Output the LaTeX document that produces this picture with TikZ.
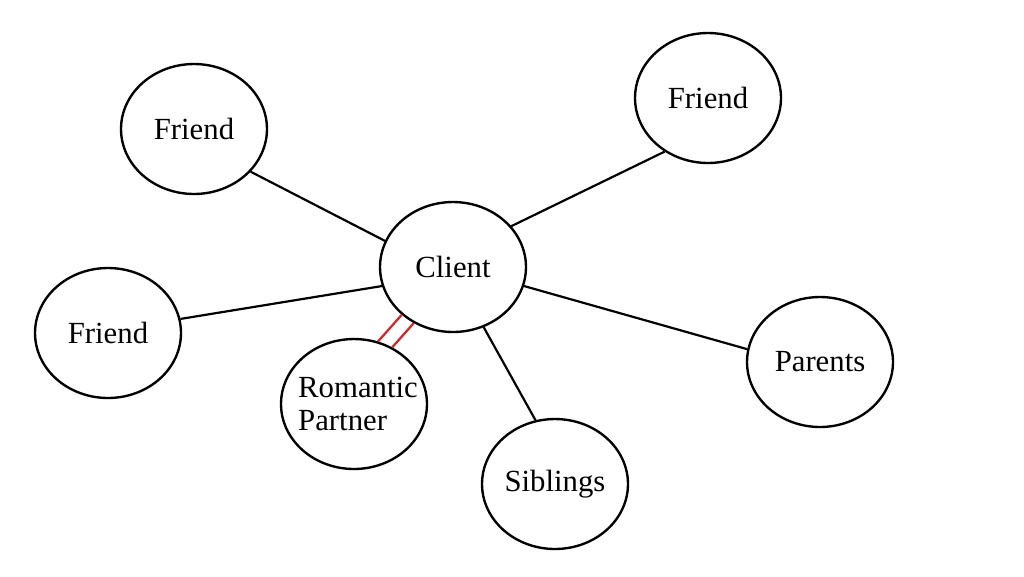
\documentclass[tikz,border=0pt]{standalone}
\usepackage{fontspec}
\setmainfont{Liberation Serif}
\usetikzlibrary{shapes.geometric}
\definecolor{rl}{RGB}{225,30,35}
\begin{document}
\begin{tikzpicture}[x=0.02cm,y=-0.02cm,
  bubble/.style={ellipse,draw=black,line width=1.35pt,minimum width=2.92cm,minimum height=2.6cm,inner sep=0pt,font=\fontsize{17.5}{18.5}\selectfont},
  txt/.style={inner sep=0pt,font=\fontsize{17.5}{18.5}\selectfont},
  link/.style={draw=black,line width=1.25pt},
  redlink/.style={draw=rl,line width=1.25pt}]
\useasboundingbox (0,0) rectangle (1024,576);
\node[bubble] (c) at (453,267) {Client};
\node[bubble] (f1) at (194,129) {Friend};
\node[bubble] (f2) at (708,98) {Friend};
\node[bubble] (f3) at (108,333) {Friend};
\node[bubble] (rp) at (354,404) {};
\node[txt,align=left] (rpt) at (358,404) {Romantic\\Partner};
\node[bubble] (s) at (555,484) {Siblings};
\node[bubble] (p) at (820,362) {Parents};
\draw[link] (f1.-37.5) -- (c.159.5);
\draw[link] (f2.-129.6) -- (c.35.3);
\draw[link] (f3.11.9) -- (c.195.2);
\draw[link] (c.-15.7) -- (p.170.3);
\draw[link] (c.-63.8) -- (s.107.9);
\draw[redlink] (c.223.2) -- (rp.69.3);
\draw[redlink] (c.235.4) -- (rp.56.1);
\end{tikzpicture}
\end{document}
